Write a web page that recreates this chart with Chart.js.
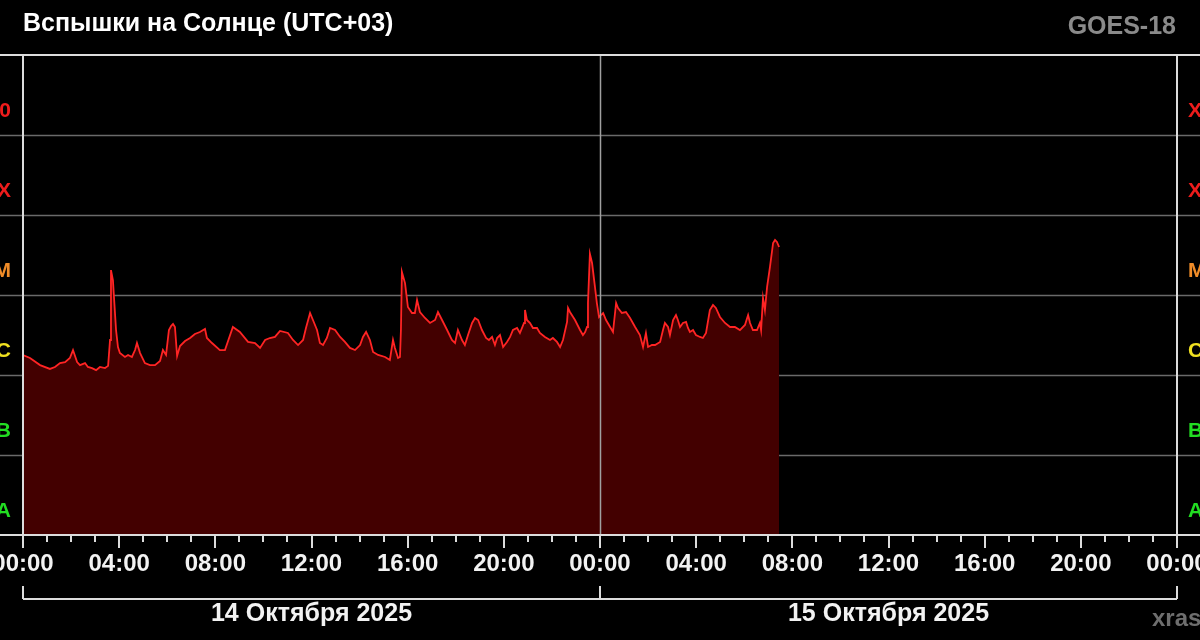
<!DOCTYPE html>
<html>
<head>
<meta charset="utf-8">
<script src="https://cdn.jsdelivr.net/npm/chart.js@4.4.1/dist/chart.umd.min.js"></script>
<style>
  html, body { margin: 0; padding: 0; background: #000; }
  #wrap { width: 1200px; height: 640px; }
</style>
</head>
<body>
<div id="wrap"><canvas id="grafico" width="1200" height="640"></canvas></div>
<script>
// часы от 00:00 14 октября (UTC+03)
const hours = [
    0, 0.29, 0.71, 1.12, 1.33, 1.54, 1.75, 1.95, 2.08, 2.25, 2.37, 2.58, 2.70, 2.87, 3.04, 3.20, 3.41, 3.54,
    3.62, 3.66, 3.74, 3.87, 3.95, 4.03, 4.24, 4.37, 4.53, 4.66, 4.74, 4.87, 5.07, 5.28, 5.49, 5.70, 5.82, 5.95,
    6.07, 6.16, 6.24, 6.32, 6.41, 6.53, 6.74, 6.95, 7.15, 7.36, 7.57, 7.65, 7.86, 8.19, 8.40, 8.73, 9.02, 9.36,
    9.65, 9.86, 10.07, 10.27, 10.48, 10.69, 11.02, 11.23, 11.44, 11.65, 11.77, 11.94, 12.06, 12.23, 12.35, 12.48,
    12.64, 12.77, 12.98, 13.19, 13.39, 13.60, 13.81, 14.02, 14.14, 14.27, 14.43, 14.56, 14.77, 15.06, 15.26, 15.39,
    15.47, 15.60, 15.68, 15.72, 15.76, 15.89, 16.01, 16.18, 16.30, 16.39, 16.51, 16.72, 16.93, 17.14, 17.26, 17.43,
    17.64, 17.84, 17.97, 18.09, 18.26, 18.38, 18.51, 18.68, 18.80, 18.93, 19.09, 19.26, 19.38, 19.51, 19.63, 19.72,
    19.84, 19.97, 20.13, 20.26, 20.38, 20.55, 20.67, 20.84, 20.88, 20.96, 21.09, 21.21, 21.38, 21.50, 21.71, 21.92,
    22.04, 22.21, 22.34, 22.46, 22.63, 22.67, 22.75, 22.96, 23.17, 23.29, 23.38, 23.46, 23.50, 23.58, 23.67, 23.79,
    23.87, 23.96, 24.13, 24.25, 24.42, 24.54, 24.67, 24.75, 24.91, 25.08, 25.25, 25.46, 25.66, 25.79, 25.91, 26.00,
    26.16, 26.29, 26.50, 26.62, 26.70, 26.83, 26.91, 27.04, 27.16, 27.24, 27.33, 27.45, 27.58, 27.66, 27.74, 27.87,
    27.99, 28.16, 28.28, 28.41, 28.57, 28.70, 28.82, 28.99, 29.20, 29.41, 29.61, 29.82, 30.03, 30.16, 30.24, 30.36,
    30.53, 30.65, 30.70, 30.78, 30.86, 30.95, 31.07, 31.20, 31.28, 31.36, 31.45
];

// поток рентгеновского излучения, Вт/м²
const flux = [
    1.78e-6, 1.63e-6, 1.33e-6, 1.19e-6, 1.26e-6, 1.41e-6, 1.45e-6, 1.63e-6, 2.05e-6, 1.45e-6, 1.33e-6, 1.41e-6, 1.26e-6, 1.22e-6, 1.15e-6, 1.26e-6, 1.22e-6, 1.30e-6,
    2.74e-6, 2.05e-5, 1.54e-5, 3.65e-6, 2.24e-6, 1.88e-6, 1.68e-6, 1.78e-6, 1.68e-6, 2.05e-6, 2.51e-6, 1.88e-6, 1.41e-6, 1.33e-6, 1.33e-6, 1.50e-6, 2.05e-6, 1.78e-6,
    3.65e-6, 4.10e-6, 4.34e-6, 3.98e-6, 1.73e-6, 2.30e-6, 2.66e-6, 2.90e-6, 3.26e-6, 3.45e-6, 3.76e-6, 2.90e-6, 2.51e-6, 2.05e-6, 2.05e-6, 3.98e-6, 3.45e-6, 2.59e-6,
    2.51e-6, 2.18e-6, 2.74e-6, 2.90e-6, 2.99e-6, 3.55e-6, 3.35e-6, 2.74e-6, 2.37e-6, 2.74e-6, 3.87e-6, 5.96e-6, 4.87e-6, 3.65e-6, 2.51e-6, 2.37e-6,
    2.90e-6, 3.87e-6, 3.65e-6, 2.99e-6, 2.59e-6, 2.18e-6, 2.05e-6, 2.37e-6, 2.99e-6, 3.45e-6, 2.74e-6, 1.94e-6, 1.78e-6, 1.68e-6, 1.54e-6, 2.74e-6,
    2.18e-6, 1.63e-6, 1.68e-6, 3.65e-6, 1.94e-5, 1.41e-5, 7.08e-6, 5.96e-6, 5.96e-6, 8.66e-6, 6.13e-6, 5.16e-6, 4.47e-6, 4.87e-6, 6.13e-6, 4.87e-6,
    3.65e-6, 2.74e-6, 2.51e-6, 3.65e-6, 2.74e-6, 2.37e-6, 3.16e-6, 4.47e-6, 5.16e-6, 4.87e-6, 3.65e-6, 2.90e-6, 2.74e-6, 2.99e-6, 2.37e-6, 2.90e-6,
    3.16e-6, 2.24e-6, 2.59e-6, 2.99e-6, 3.65e-6, 3.87e-6, 3.35e-6, 4.47e-6, 6.49e-6, 4.87e-6, 4.47e-6, 3.87e-6, 3.87e-6, 3.35e-6, 2.99e-6, 2.74e-6,
    2.90e-6, 2.59e-6, 2.24e-6, 2.74e-6, 4.60e-6, 6.88e-6, 6.13e-6, 4.87e-6, 3.65e-6, 3.16e-6, 3.45e-6, 3.98e-6, 7.94e-6, 3.26e-5, 2.51e-5, 1.26e-5,
    7.94e-6, 5.30e-6, 5.96e-6, 4.87e-6, 3.98e-6, 3.45e-6, 7.94e-6, 6.88e-6, 5.96e-6, 6.13e-6, 5.16e-6, 3.98e-6, 3.16e-6, 2.24e-6, 3.35e-6, 2.24e-6,
    2.37e-6, 2.37e-6, 2.59e-6, 3.65e-6, 4.47e-6, 3.98e-6, 3.16e-6, 4.87e-6, 5.62e-6, 4.87e-6, 3.98e-6, 4.47e-6, 4.60e-6, 3.87e-6, 3.45e-6, 3.65e-6,
    3.16e-6, 2.99e-6, 2.90e-6, 3.35e-6, 6.49e-6, 7.50e-6, 6.88e-6, 5.31e-6, 4.47e-6, 3.98e-6, 3.98e-6, 3.65e-6, 4.22e-6, 5.62e-6, 4.47e-6, 3.65e-6,
    3.65e-6, 4.47e-6, 3.65e-6, 9.17e-6, 6.49e-6, 1.26e-5, 2.24e-5, 4.47e-5, 4.87e-5, 4.60e-5, 3.98e-5
];

// классы вспышек: нижняя граница и подпись
const classNames = ['A', 'B', 'C', 'M', 'X', 'X10'];
const classLows = [1e-8, 1e-7, 1e-6, 1e-5, 1e-4, 1e-3];
const classColors = ['#22dd22', '#22dd22', '#f0e020', '#f08c28', '#ee1c1c', '#ee1c1c'];

const xTickHours = [0, 4, 8, 12, 16, 20, 24, 28, 32, 36, 40, 44, 48];
const xTickLabels = ['00:00', '04:00', '08:00', '12:00', '16:00', '20:00', '00:00', '04:00', '08:00', '12:00', '16:00', '20:00', '00:00'];
const dayLabels = ['14 Октября 2025', '15 Октября 2025'];

const FONT = '"Liberation Sans", Arial, sans-serif';

const oformlenie = {
    id: 'oformlenie',
    beforeDraw(chart) {
        const ctx = chart.ctx;
        ctx.save();
        ctx.fillStyle = '#000';
        ctx.fillRect(0, 0, chart.width, chart.height);
        ctx.restore();
    },
    beforeDatasetsDraw(chart) {
        const ctx = chart.ctx;
        const y = chart.scales.y;
        ctx.save();
        ctx.strokeStyle = '#6a6a6a';
        ctx.lineWidth = 1.5;
        classLows.forEach((lo, i) => {
            if (i === 0) return;
            const py = Math.round(y.getPixelForValue(lo)) + 0.5;
            ctx.beginPath();
            ctx.moveTo(0, py);
            ctx.lineTo(chart.width, py);
            ctx.stroke();
        });
        ctx.restore();
    },
    afterDatasetsDraw(chart) {
        const ctx = chart.ctx;
        const x = chart.scales.x;
        const y = chart.scales.y;
        const a = chart.chartArea;
        ctx.save();

        // полночь
        ctx.strokeStyle = '#a0a0a0';
        ctx.lineWidth = 1.5;
        const mid = Math.round(x.getPixelForValue(24)) + 0.5;
        ctx.beginPath();
        ctx.moveTo(mid, a.top);
        ctx.lineTo(mid, a.bottom);
        ctx.stroke();

        // рамка
        ctx.strokeStyle = '#dcdcdc';
        ctx.lineWidth = 2;
        ctx.beginPath();
        ctx.moveTo(0, a.top); ctx.lineTo(chart.width, a.top);
        ctx.moveTo(0, a.bottom); ctx.lineTo(chart.width, a.bottom);
        ctx.moveTo(a.left, a.top); ctx.lineTo(a.left, a.bottom);
        ctx.moveTo(a.right, a.top); ctx.lineTo(a.right, a.bottom);
        ctx.stroke();

        // деления по часам
        for (let h = 0; h <= 48; h++) {
            const px = Math.round(x.getPixelForValue(h));
            ctx.beginPath();
            ctx.moveTo(px, a.bottom);
            ctx.lineTo(px, a.bottom + (h % 4 === 0 ? 13 : 7));
            ctx.stroke();
        }

        // подписи времени
        ctx.fillStyle = '#f2f2f2';
        ctx.font = 'bold 24px ' + FONT;
        ctx.textAlign = 'center';
        ctx.textBaseline = 'middle';
        xTickHours.forEach((h, i) => {
            ctx.fillText(xTickLabels[i], x.getPixelForValue(h), 564);
        });

        // скобка дат
        ctx.beginPath();
        ctx.moveTo(a.left, 599); ctx.lineTo(a.right, 599);
        [0, 24, 48].forEach(h => {
            const px = Math.round(x.getPixelForValue(h));
            ctx.moveTo(px, 586); ctx.lineTo(px, 599);
        });
        ctx.stroke();
        ctx.font = 'bold 25px ' + FONT;
        dayLabels.forEach((d, i) => {
            ctx.fillText(d, x.getPixelForValue(i * 24 + 12), 614);
        });

        // классы
        ctx.font = 'bold 21px ' + FONT;
        classLows.forEach((lo, i) => {
            const py = (y.getPixelForValue(lo) + y.getPixelForValue(lo * 10)) / 2 + 16;
            ctx.fillStyle = classColors[i];
            ctx.textAlign = 'right';
            ctx.fillText(classNames[i], 11, py);
            ctx.textAlign = 'left';
            ctx.fillText(classNames[i], 1188, py);
        });

        // заголовок
        ctx.textBaseline = 'middle';
        ctx.textAlign = 'left';
        ctx.fillStyle = '#ffffff';
        ctx.font = 'bold 25px ' + FONT;
        ctx.fillText('Вспышки на Солнце (UTC+03)', 23, 24);
        ctx.fillStyle = '#8a8a8a';
        ctx.textAlign = 'right';
        ctx.fillText('GOES-18', 1176, 27);
        ctx.textAlign = 'left';
        ctx.fillStyle = '#6e6e6e';
        ctx.font = 'bold 24px ' + FONT;
        ctx.fillText('xras.ru', 1152, 619);
        ctx.restore();
    }
};

new Chart(document.getElementById('grafico'), {
    type: 'line',
    data: {
        datasets: [{
            data: hours.map((h, i) => ({ x: h, y: flux[i] })),
            borderColor: '#ff2424',
            borderWidth: 1.8,
            backgroundColor: '#430000',
            fill: 'start',
            pointRadius: 0,
            tension: 0
        }]
    },
    options: {
        responsive: false,
        animation: false,
        devicePixelRatio: 1,
        layout: { padding: { left: 23, right: 23, top: 55, bottom: 105 } },
        plugins: {
            legend: { display: false },
            tooltip: { enabled: false }
        },
        scales: {
            x: { type: 'linear', min: 0, max: 48, display: false },
            y: { type: 'logarithmic', min: 1e-8, max: 1e-2, display: false }
        }
    },
    plugins: [oformlenie]
});
</script>
</body>
</html>
